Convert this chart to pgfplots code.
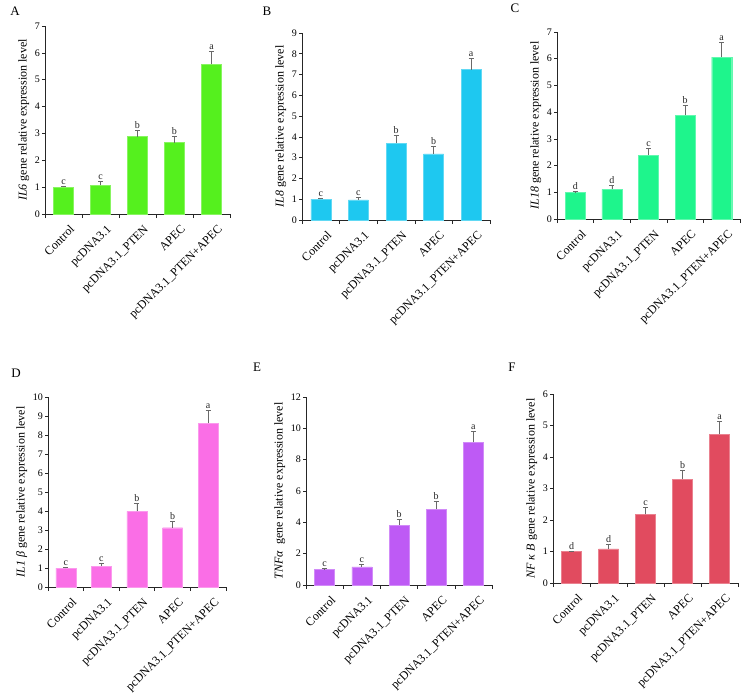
\documentclass[border=0pt]{standalone}
\usepackage{fontspec}
\setmainfont{Liberation Serif}
\usepackage{pgfplots}
\usepackage{pgfplotstable}
\pgfplotsset{compat=1.18}
\definecolor{cA}{RGB}{85,240,30}
\definecolor{cB}{RGB}{30,200,240}
\definecolor{cC}{RGB}{30,245,140}
\definecolor{cD}{RGB}{250,110,230}
\definecolor{cE}{RGB}{190,90,245}
\definecolor{cF}{RGB}{225,75,95}
\definecolor{errc}{RGB}{105,105,105}

\pgfplotstableread{
x y e l
0 1.00 0.03 c
1 1.07 0.16 c
2 2.88 0.25 b
3 2.66 0.23 b
4 5.57 0.47 a
}\dataA
\pgfplotstableread{
x y e l
0 1.00 0.04 c
1 0.97 0.11 c
2 3.70 0.39 b
3 3.18 0.36 b
4 7.24 0.53 a
}\dataB
\pgfplotstableread{
x y e l
0 1.00 0.02 d
1 1.11 0.16 d
2 2.39 0.25 c
3 3.89 0.36 b
4 6.06 0.54 a
}\dataC
\pgfplotstableread{
x y e l
0 1.00 0.03 c
1 1.10 0.16 c
2 3.98 0.42 b
3 3.12 0.35 b
4 8.62 0.67 a
}\dataD
\pgfplotstableread{
x y e l
0 1.00 0.05 c
1 1.15 0.20 c
2 3.82 0.36 b
3 4.85 0.50 b
4 9.12 0.70 a
}\dataE
\pgfplotstableread{
x y e l
0 1.00 0.02 d
1 1.08 0.14 d
2 2.18 0.21 c
3 3.30 0.29 b
4 4.72 0.41 a
}\dataF

\pgfplotsset{
  panel/.style={
    scale only axis,
    anchor=south west,
    axis lines=left,
    axis line style={-, line width=0.6pt, black!85},
    xmin=-0.5, xmax=4.5, ymin=0,
    xtick={0,1,2,3,4},
    xticklabels={Control,pcDNA3.1,pcDNA3.1\_PTEN,APEC,pcDNA3.1\_PTEN+APEC},
    major x tick style={draw=none},
    minor xtick={-0.5,0.5,1.5,2.5,3.5,4.5},
    minor x tick style={line width=0.6pt, black!85},
    y tick style={line width=0.6pt, black!85},
    tick align=outside,
    major tick length=3pt,
    minor tick length=4pt,
    x tick label style={rotate=45, anchor=north east, font=\fontsize{12}{12}\selectfont, inner sep=1pt, yshift=-8pt},
    y tick label style={font=\fontsize{10}{10}\selectfont, inner sep=2pt},
    ylabel style={font=\fontsize{12}{12}\selectfont},
    /pgf/number format/assume math mode=true,
    clip=false,
  },
  bars/.style={
    ybar, bar width=20pt, fill=#1, draw=#1!70!white, line width=0.4pt,
    error bars/.cd, y dir=plus, y explicit,
    error bar style={errc, line width=0.7pt},
    error mark options={errc, rotate=90, mark size=2.5pt, line width=0.7pt},
  },
  letters/.style={
    only marks, mark=none,
    nodes near coords, point meta=explicit symbolic,
    nodes near coords style={font=\fontsize{10}{10}\selectfont, anchor=south, inner sep=1.5pt, text=black!85},
  },
}

\begin{document}
\begin{tikzpicture}
\path[use as bounding box] (0pt,0pt) rectangle (742pt,-697pt);
\tikzset{plabel/.style={font=\fontsize{13}{13}\selectfont, inner sep=0pt}}

\begin{axis}[panel, at={(45pt,-214pt)}, width=185pt, height=188pt, ymax=7, ytick={0,1,...,7},
  ylabel={\textit{IL6} gene relative expression level}]
\addplot[bars=cA] table[x=x, y=y, y error=e] {\dataA};
\addplot[letters] table[x=x, y expr=\thisrow{y}+\thisrow{e}, meta=l] {\dataA};
\end{axis}
\node[plabel] at (15pt,-11pt) {A};

\begin{axis}[panel, at={(302pt,-220pt)}, width=188pt, height=187pt, ymax=9, ytick={0,1,...,9},
  ylabel={\textit{IL8} gene relative expression level}]
\addplot[bars=cB] table[x=x, y=y, y error=e] {\dataB};
\addplot[letters] table[x=x, y expr=\thisrow{y}+\thisrow{e}, meta=l] {\dataB};
\end{axis}
\node[plabel] at (267pt,-11pt) {B};

\begin{axis}[panel, at={(557pt,-219pt)}, width=183pt, height=187pt, ymax=7, ytick={0,1,...,7},
  ylabel={\textit{IL18} gene relative expression level}]
\addplot[bars=cC] table[x=x, y=y, y error=e] {\dataC};
\addplot[letters] table[x=x, y expr=\thisrow{y}+\thisrow{e}, meta=l] {\dataC};
\end{axis}
\node[plabel] at (515pt,-8pt) {C};

\begin{axis}[panel, at={(48pt,-587pt)}, width=178pt, height=190pt, ymax=10, ytick={0,1,...,10},
  ylabel={\textit{IL1 β} gene relative expression level}]
\addplot[bars=cD] table[x=x, y=y, y error=e] {\dataD};
\addplot[letters] table[x=x, y expr=\thisrow{y}+\thisrow{e}, meta=l] {\dataD};
\end{axis}
\node[plabel] at (16pt,-373pt) {D};

\begin{axis}[panel, at={(306pt,-585pt)}, width=186pt, height=188pt, ymax=12, ytick={0,2,...,12},
  ylabel={\textit{TNFα}\ \ gene relative expression level}]
\addplot[bars=cE] table[x=x, y=y, y error=e] {\dataE};
\addplot[letters] table[x=x, y expr=\thisrow{y}+\thisrow{e}, meta=l] {\dataE};
\end{axis}
\node[plabel] at (257pt,-367pt) {E};

\begin{axis}[panel, at={(553pt,-583pt)}, width=185pt, height=189pt, ymax=6, ytick={0,1,...,6},
  ylabel={\textit{NF κ B} gene relative expression level}]
\addplot[bars=cF] table[x=x, y=y, y error=e] {\dataF};
\addplot[letters] table[x=x, y expr=\thisrow{y}+\thisrow{e}, meta=l] {\dataF};
\end{axis}
\node[plabel] at (512pt,-367pt) {F};
\end{tikzpicture}
\end{document}
